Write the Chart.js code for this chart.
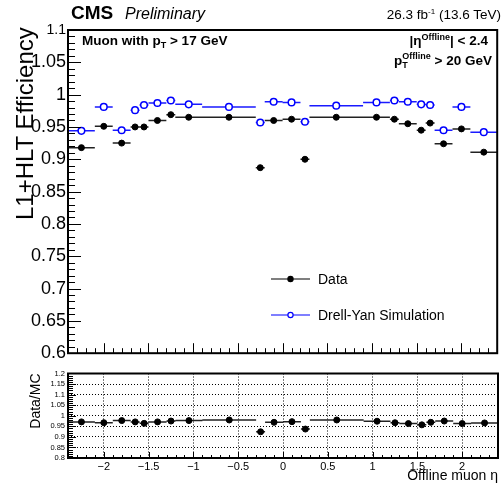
<!DOCTYPE html>
<html>
<head>
<meta charset="utf-8">
<script src="https://cdn.jsdelivr.net/npm/chart.js@4.4.1/dist/chart.umd.min.js"></script>
<style>
  html, body { margin: 0; padding: 0; background: #fff; }
  #wrap { position: relative; width: 502px; height: 486px; overflow: hidden; font-family: "Liberation Sans", Arial, sans-serif; color: #000; }
  #wrap canvas { position: absolute; left: 0; }
  .t { position: absolute; white-space: nowrap; line-height: 1; }
  .s { position: relative; font-size: 9px; }
  .rot { transform: rotate(-90deg); transform-origin: left top; }
</style>
</head>
<body>
<div id="wrap">
  <canvas id="eff" width="502" height="366" style="top:0"></canvas>
  <canvas id="ratio" width="502" height="120" style="top:366px"></canvas>

  <div class="t" style="left:71px;top:3px;font-size:19px;font-weight:bold">CMS</div>
  <div class="t" style="left:125px;top:6px;font-size:16px;font-style:italic">Preliminary</div>
  <div class="t" style="right:1px;top:8px;font-size:13.5px">26.3 fb<span class="s" style="top:-5px;font-size:8px">-1</span> (13.6 TeV)</div>
  <div class="t" style="left:82px;top:34px;font-size:13.5px;font-weight:bold">Muon with p<span class="s" style="top:3px">T</span> &gt; 17 GeV</div>
  <div class="t" style="right:14px;top:34px;font-size:13.5px;font-weight:bold">|&eta;<span class="s" style="top:-5px">Offline</span>| &lt; 2.4</div>
  <div class="t" style="right:10px;top:54px;font-size:13.5px;font-weight:bold">p<span style="position:relative;display:inline-block"><span class="s" style="top:-6px">Offline</span><span class="s" style="position:absolute;left:0;top:7px">T</span></span> &gt; 20 GeV</div>
  <div class="t rot" style="left:13px;top:220px;font-size:24px">L1+HLT Efficiency</div>
</div>

<script>
// eta binning of the trigger efficiency measurement
const binEdges = [-2.4, -2.1, -1.9, -1.7, -1.6, -1.5, -1.3, -1.2, -0.9, -0.3, -0.2, 0, 0.2, 0.3, 0.9, 1.2, 1.3, 1.5, 1.6, 1.7, 1.9, 2.1, 2.4];

const effData = [0.918, 0.951, 0.925, 0.950, 0.950, 0.960, 0.969, 0.965, 0.965, 0.887, 0.960,
                 0.962, 0.900, 0.965, 0.965, 0.962, 0.955, 0.945, 0.956, 0.924, 0.947, 0.911];
const effMC = [0.944, 0.981, 0.945, 0.976, 0.984, 0.987, 0.991, 0.985, 0.981, 0.957, 0.989,
               0.988, 0.958, 0.983, 0.988, 0.991, 0.989, 0.985, 0.984, 0.945, 0.981, 0.942];
const ratioVals = [0.971, 0.967, 0.977, 0.971, 0.964, 0.971, 0.975, 0.977, 0.980, 0.924, 0.969,
                   0.972, 0.937, 0.980, 0.974, 0.967, 0.963, 0.957, 0.969, 0.975, 0.963, 0.966];

const etaTicks = [-2, -1.5, -1, -0.5, 0, 0.5, 1, 1.5, 2];
const effTicks = [0.6, 0.65, 0.7, 0.75, 0.8, 0.85, 0.9, 0.95, 1, 1.05, 1.1];
const ratioTicks = [0.8, 0.85, 0.9, 0.95, 1, 1.05, 1.1, 1.15, 1.2];

const FONT = '"Liberation Sans", Arial, sans-serif';
Chart.defaults.font.family = FONT;
Chart.defaults.color = '#000';

const fmt = (v) => String(Number(v.toFixed(3))).replace('-', '\u2212');
const setTicks = (list) => (scale) => { scale.ticks = list.map((v) => ({ value: v })); };

// markers at bin centres, horizontal bars across each bin
const points = (vals) => vals.map((v, i) => ({ x: (binEdges[i] + binEdges[i + 1]) / 2, y: v }));
const binBars = (vals) => {
  const out = [];
  vals.forEach((v, i) => {
    out.push({ x: binEdges[i], y: v }, { x: binEdges[i + 1], y: v }, { x: binEdges[i + 1], y: null });
  });
  return out;
};

// ROOT-like frame with inward tick marks
const rootFrame = {
  id: 'rootFrame',
  afterDatasetsDraw(chart, args, o) {
    const { ctx, chartArea: a, scales } = chart;
    ctx.save();
    ctx.strokeStyle = '#000';
    ctx.lineWidth = 1;
    const ys = scales.y, xs = scales.x;
    const nY = Math.round((ys.max - ys.min) / o.yMinor);
    for (let k = 0; k <= nY; k++) {
      const v = ys.min + k * o.yMinor;
      const major = Math.abs(v / o.yMajor - Math.round(v / o.yMajor)) < 1e-6;
      const py = Math.round(ys.getPixelForValue(v)) + 0.5;
      ctx.beginPath();
      ctx.moveTo(a.left, py);
      ctx.lineTo(a.left + (major ? o.yLen[0] : o.yLen[1]), py);
      ctx.stroke();
    }
    const nX = Math.round((xs.max - xs.min) / 0.1);
    for (let k = 0; k <= nX; k++) {
      const v = xs.min + k * 0.1;
      const major = Math.abs(v / 0.5 - Math.round(v / 0.5)) < 1e-6;
      const px = Math.round(xs.getPixelForValue(v)) + 0.5;
      ctx.beginPath();
      ctx.moveTo(px, a.bottom);
      ctx.lineTo(px, a.bottom - (major ? o.xLen[0] : o.xLen[1]));
      ctx.stroke();
    }
    ctx.lineWidth = 2;
    ctx.strokeRect(a.left, a.top, a.right - a.left, a.bottom - a.top);
    ctx.restore();
  }
};

const legendBox = {
  id: 'legendBox',
  afterDraw(chart, args, o) {
    const ctx = chart.ctx;
    const items = chart.data.datasets.filter((d) => d.label);
    ctx.save();
    items.forEach((d, i) => {
      const y = o.y + i * o.gap;
      ctx.strokeStyle = d.borderColor;
      ctx.lineWidth = 1.2;
      ctx.beginPath();
      ctx.moveTo(o.x, y);
      ctx.lineTo(o.x + o.len, y);
      ctx.stroke();
      ctx.beginPath();
      ctx.arc(o.x + o.len / 2, y, 2.6, 0, Math.PI * 2);
      ctx.fillStyle = d.backgroundColor;
      ctx.fill();
      ctx.stroke();
      ctx.fillStyle = '#000';
      ctx.font = '14px ' + FONT;
      ctx.textBaseline = 'middle';
      ctx.fillText(d.label, o.x + o.len + 8, y + 1);
    });
    ctx.restore();
  }
};

const markerData = { pointRadius: 3, pointHoverRadius: 3, borderColor: '#000', backgroundColor: '#000', pointBorderWidth: 1 };
const markerMC = { pointRadius: 3.3, pointHoverRadius: 3.3, borderColor: '#0000ff', backgroundColor: '#ffffff', pointBorderWidth: 1.5 };
const barStyle = (color) => ({ type: 'line', pointRadius: 0, borderWidth: 1.5, borderColor: color, spanGaps: false, fill: false });

new Chart(document.getElementById('eff'), {
  type: 'scatter',
  data: {
    datasets: [
      { label: 'Data', data: points(effData), ...markerData },
      { label: 'Drell-Yan Simulation', data: points(effMC), ...markerMC },
      { data: binBars(effData), ...barStyle('#222') },
      { data: binBars(effMC), ...barStyle('#1a1aff') }
    ]
  },
  options: {
    responsive: false,
    animation: false,
    layout: { padding: { top: 30, right: 1, bottom: 4, left: 0 } },
    plugins: {
      legend: { display: false },
      tooltip: { enabled: false },
      rootFrame: { yMinor: 0.01, yMajor: 0.05, yLen: [13, 7], xLen: [10, 5] },
      legendBox: { x: 271, y: 279, gap: 36, len: 39 }
    },
    scales: {
      x: { type: 'linear', min: -2.4, max: 2.4, display: false },
      y: {
        min: 0.6, max: 1.1,
        afterBuildTicks: setTicks(effTicks),
        afterFit: (s) => { s.width = 68; },
        grid: { display: false, drawTicks: false },
        border: { display: false },
        ticks: {
          autoSkip: false, padding: 2,
          font: (c) => ({ size: c.tick && c.tick.value > 1.09 ? 14 : 18 }),
          callback: (v) => fmt(v)
        }
      }
    }
  },
  plugins: [rootFrame, legendBox]
});

new Chart(document.getElementById('ratio'), {
  type: 'scatter',
  data: {
    datasets: [
      { data: points(ratioVals), ...markerData },
      { data: binBars(ratioVals), ...barStyle('#222') }
    ]
  },
  options: {
    responsive: false,
    animation: false,
    layout: { padding: { top: 6, right: 1, bottom: 0, left: 0 } },
    plugins: {
      legend: { display: false },
      tooltip: { enabled: false },
      rootFrame: { yMinor: 0.01, yMajor: 0.05, yLen: [8, 5], xLen: [6, 3] }
    },
    scales: {
      x: {
        type: 'linear', min: -2.4, max: 2.4,
        afterBuildTicks: setTicks(etaTicks),
        afterFit: (s) => { s.height = 28; },
        grid: { color: '#000', lineWidth: 1, drawTicks: false },
        border: { display: false, dash: [1, 2] },
        ticks: { autoSkip: false, maxRotation: 0, padding: 2, font: { size: 11 }, callback: (v) => fmt(v) },
        title: { display: true, text: 'Offline muon \u03b7', align: 'end', font: { size: 14 }, padding: { top: 0, bottom: 1 } }
      },
      y: {
        min: 0.8, max: 1.2,
        afterBuildTicks: setTicks(ratioTicks),
        afterFit: (s) => { s.width = 68; },
        grid: { color: '#000', lineWidth: 1, drawTicks: false },
        border: { display: false, dash: [1, 2] },
        ticks: { autoSkip: false, padding: 3, font: { size: 7.5 }, callback: (v) => fmt(v) },
        title: { display: true, text: 'Data/MC', align: 'end', font: { size: 14 }, padding: { top: 28, bottom: 0 } }
      }
    }
  },
  plugins: [rootFrame]
});
</script>
</body>
</html>
